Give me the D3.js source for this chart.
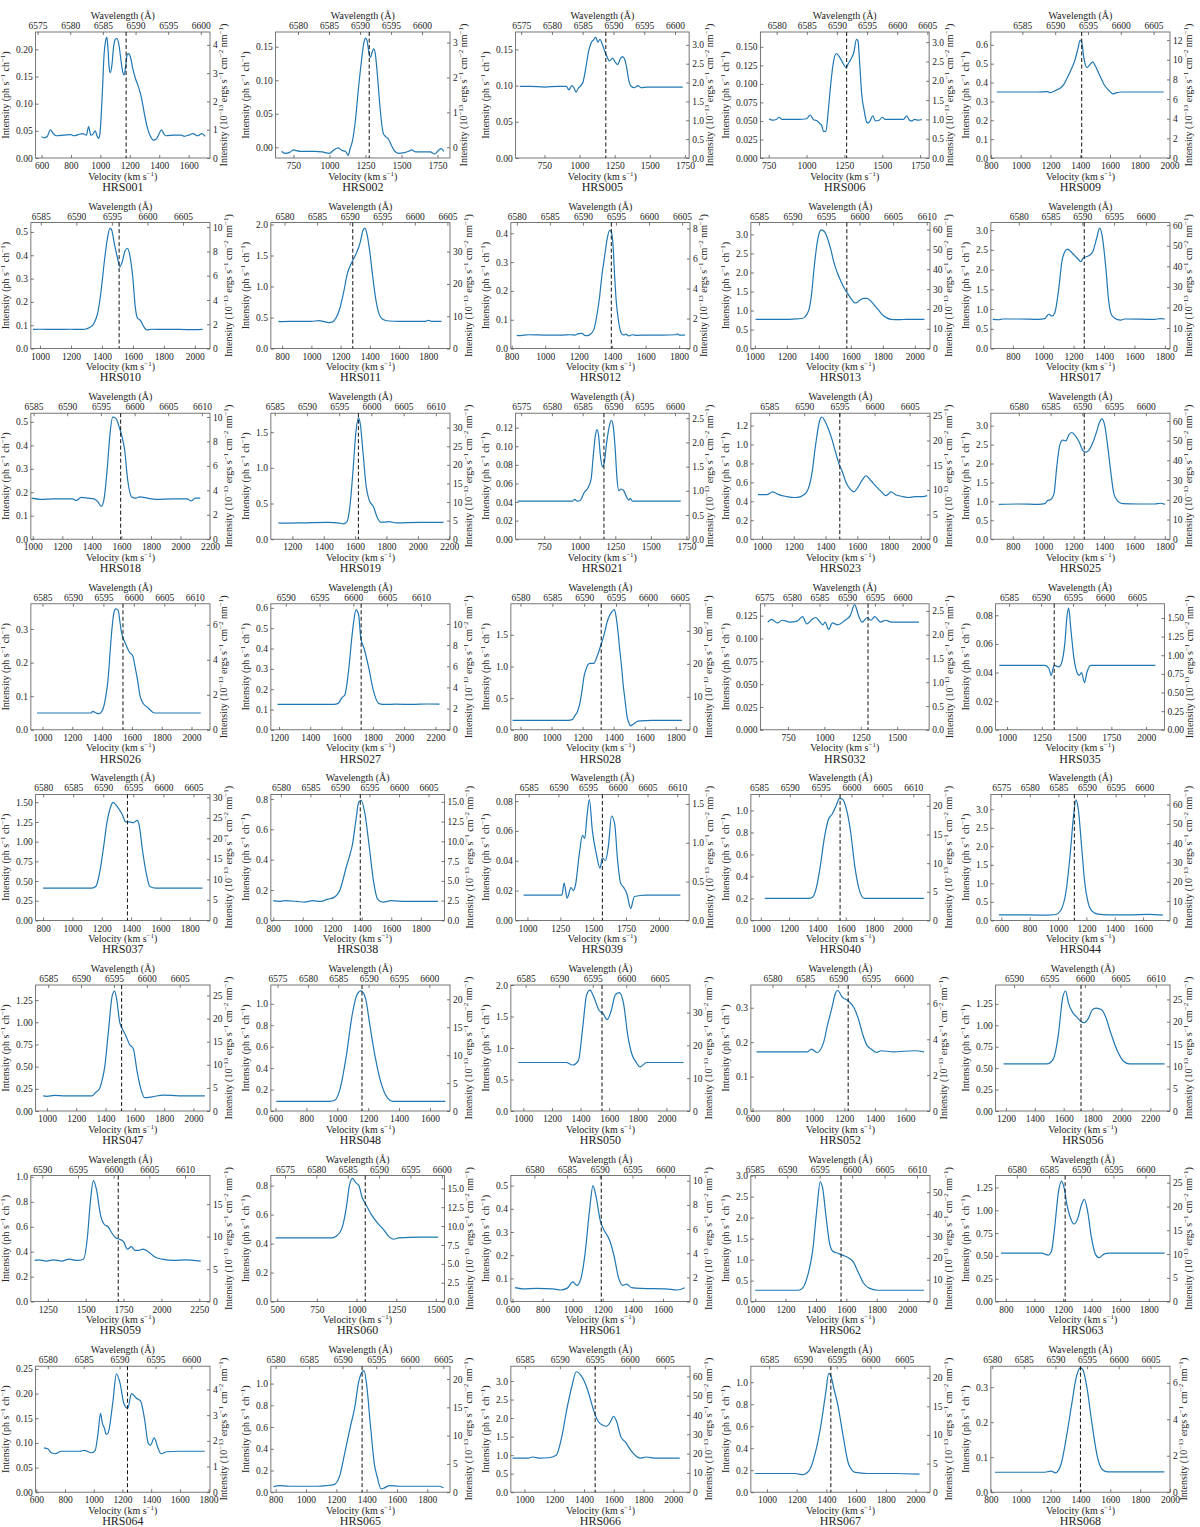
<!DOCTYPE html>
<html><head><meta charset="utf-8">
<script src="https://cdn.jsdelivr.net/npm/d3@7"></script>
<style>
body{margin:0;background:#fff}
text{font-family:"Liberation Serif","DejaVu Serif",serif;fill:#222}
</style>
</head><body>
<svg id="chart" width="1200" height="1527"></svg>
<script>
const panelNames = ["HRS001","HRS002","HRS005","HRS006","HRS009","HRS010","HRS011","HRS012","HRS013","HRS017",
"HRS018","HRS019","HRS021","HRS023","HRS025","HRS026","HRS027","HRS028","HRS032","HRS035",
"HRS037","HRS038","HRS039","HRS040","HRS044","HRS047","HRS048","HRS050","HRS052","HRS056",
"HRS059","HRS060","HRS061","HRS062","HRS063","HRS064","HRS065","HRS066","HRS067","HRS068"];

const velocityLimits = [[560,1745],[626,1837],[545,1780],[695,1810],[800,2003],[941,2098],[723,1948],[795,1865],[975,2095],[656,1834],
[987,2200],[1063,2205],[549,1769],[930,2058],[656,1834],[922,2124],[1148,2293],[738,1892],[560,1720],[918,2131],
[749,1938],[784,1960],[910,2230],[930,2195],[526,1790],[923,2113],[570,1730],[913,2165],[589,1760],[1129,2336],
[1138,2321],[460,1554],[589,1780],[972,2150],[729,1948],[595,1810],[768,1950],[909,2112],[892,2097],[800,2000]];

const wavelengthLimits = [[6574.7,6601.4],[6576.4,6604.5],[6574.1,6602.3],[6577.3,6605.3],[6580.2,6607.5],[6583.6,6608.8],[6577.9,6605.4],[6579.1,6606.2],[6583.8,6610.5],[6575.6,6603.8],
[6584.6,6611.2],[6584.4,6612.2],[6574.1,6602.3],[6582.4,6607.9],[6575.6,6603.8],[6583.1,6612.5],[6587.8,6614.3],[6578.5,6606.6],[6574.3,6604.8],[6582.9,6609.3],
[6578.75,6607.75],[6578.3,6607.7],[6582.8,6612.0],[6583.7,6612.7],[6573.2,6604.5],[6583.1,6609.6],[6573.9,6603.4],[6582.8,6609.5],[6576.7,6604.0],[6587.4,6612.0],
[6588.4,6613.5],[6572.75,6600.4],[6576.4,6603.8],[6584.4,6612.0],[6576.7,6603.8],[6578.3,6602.6],[6579.3,6606.0],[6583.0,6608.6],[6582.3,6608.8],[6579.8,6608.1]];

const intensityLimits = [[0,0.232],[-0.016,0.172],[0,0.174],[0,0.17],[0,0.668],[0,0.54],[0,2.03],[0,0.437],[0,3.31],[0,3.19],
[0,0.537],[0,1.765],[0,0.1356],[0,1.33],[0,3.33],[0,0.375],[0,0.62],[0,1.99],[0,0.138],[0,0.088],
[0,1.6],[0,0.83],[0,0.0845],[0,1.146],[0,3.4],[0,1.42],[0,1.175],[0,2.0],[0,0.366],[0,1.47],
[0,1.01],[0,0.869],[0,0.543],[0,3.0],[0,1.38],[0,0.2555],[0,1.16],[0,3.4],[0,1.146],[0,0.36]];

const velocityTickStep = [200,250,250,250,200,200,200,200,200,200,
200,200,250,200,200,200,200,200,250,250,
200,200,250,200,200,200,200,200,200,200,
250,250,200,200,200,200,200,200,200,200];

const leftTickStep = [0.05,0.05,0.05,0.025,0.1,0.1,0.5,0.1,0.5,0.5,
0.1,0.5,0.02,0.2,0.5,0.1,0.1,0.5,0.025,0.02,
0.25,0.2,0.02,0.2,0.5,0.25,0.2,0.5,0.1,0.25,
0.2,0.2,0.1,0.5,0.25,0.05,0.2,0.5,0.2,0.1];

const rightTickStep = [1,1,0.5,0.5,2,2,10,2,10,10,
2,5,0.5,5,10,2,2,10,0.5,0.25,
5,2.5,0.5,5,10,5,5,10,2,5,
5,2.5,2,10,5,1,5,10,5,2];

const dashedVelocity = [1175,1276,1187,1265,1410,1511,1283,1395,1575,1270,
1595,1621,1170,1490,1270,1540,1725,1320,1300,1339,
1375,1390,1570,1560,1115,1510,1160,1550,1225,1720,
1715,1055,1190,1565,1215,1235,1370,1475,1430,1400];

const fluxConversion = 19.2;

const hrs001 = [[600,0.039],[620,0.037],[640,0.04],[660,0.052],[680,0.045],[700,0.041],[750,0.042],[800,0.043],[820,0.041],[850,0.043],[880,0.045],[905,0.042],[920,0.058],[935,0.042],[950,0.044],[965,0.05],[978,0.04],[988,0.036],[997,0.045],[1005,0.075],[1015,0.13],[1025,0.19],[1035,0.215],[1044,0.222],[1052,0.2],[1060,0.165],[1068,0.157],[1078,0.17],[1090,0.205],[1100,0.218],[1112,0.22],[1125,0.21],[1140,0.18],[1152,0.158],[1162,0.153],[1172,0.17],[1182,0.19],[1192,0.192],[1205,0.185],[1220,0.165],[1240,0.145],[1260,0.13],[1280,0.11],[1300,0.08],[1320,0.055],[1340,0.04],[1360,0.033],[1380,0.035],[1400,0.045],[1415,0.052],[1430,0.045],[1445,0.041],[1500,0.042],[1550,0.042],[1570,0.04],[1600,0.042],[1630,0.045],[1660,0.041],[1690,0.045],[1712,0.04]];
const hrs002 = [[668,-0.006],[690,-0.009],[720,-0.008],[750,-0.004],[770,-0.005],[800,-0.006],[850,-0.006],[900,-0.006],[950,-0.007],[1000,-0.009],[1030,-0.004],[1060,-0.001],[1090,-0.005],[1110,-0.006],[1130,-0.012],[1142,-0.003],[1160,0.01],[1180,0.04],[1200,0.085],[1220,0.125],[1240,0.157],[1250,0.163],[1262,0.158],[1275,0.14],[1285,0.134],[1298,0.143],[1308,0.147],[1318,0.14],[1330,0.115],[1345,0.075],[1360,0.04],[1375,0.02],[1390,0.016],[1410,0.012],[1430,0.003],[1450,-0.005],[1480,-0.009],[1520,-0.008],[1550,-0.006],[1570,-0.004],[1600,-0.007],[1650,-0.007],[1700,-0.007],[1730,-0.01],[1760,-0.004],[1775,-0.002],[1794,-0.006]];
const hrs005 = [[575,0.099],[650,0.099],[750,0.098],[850,0.099],[905,0.099],[925,0.094],[945,0.1],[960,0.097],[975,0.091],[990,0.096],[1005,0.099],[1025,0.105],[1045,0.125],[1065,0.148],[1085,0.16],[1100,0.163],[1115,0.167],[1130,0.16],[1145,0.164],[1160,0.158],[1175,0.15],[1195,0.14],[1213,0.134],[1235,0.138],[1255,0.132],[1272,0.129],[1290,0.137],[1305,0.14],[1320,0.137],[1335,0.125],[1350,0.108],[1367,0.099],[1390,0.097],[1415,0.1],[1440,0.097],[1480,0.098],[1550,0.098],[1650,0.098],[1735,0.098]];
const hrs006 = [[752,0.053],[775,0.051],[800,0.052],[820,0.055],[838,0.052],[880,0.052],[950,0.052],[1000,0.053],[1025,0.058],[1045,0.052],[1070,0.05],[1090,0.046],[1100,0.044],[1112,0.036],[1128,0.036],[1142,0.06],[1160,0.1],[1180,0.132],[1198,0.141],[1215,0.137],[1235,0.13],[1252,0.124],[1262,0.122],[1275,0.127],[1292,0.133],[1312,0.142],[1330,0.16],[1340,0.158],[1352,0.125],[1365,0.085],[1380,0.065],[1395,0.05],[1405,0.047],[1420,0.05],[1438,0.057],[1455,0.05],[1480,0.051],[1500,0.055],[1520,0.052],[1560,0.052],[1640,0.052],[1662,0.057],[1680,0.051],[1695,0.05],[1712,0.052],[1740,0.051],[1762,0.052]];
const hrs009 = [[840,0.35],[900,0.35],[1000,0.35],[1100,0.35],[1180,0.352],[1195,0.347],[1215,0.35],[1240,0.36],[1265,0.37],[1290,0.39],[1310,0.42],[1340,0.47],[1365,0.52],[1385,0.58],[1400,0.625],[1410,0.615],[1425,0.53],[1445,0.48],[1460,0.49],[1485,0.51],[1500,0.49],[1530,0.44],[1560,0.39],[1590,0.36],[1620,0.34],[1640,0.345],[1680,0.35],[1800,0.35],[1960,0.35]];
const hrs010 = [[955,0.082],[1000,0.083],[1100,0.082],[1200,0.083],[1250,0.082],[1290,0.083],[1320,0.09],[1350,0.11],[1375,0.16],[1395,0.25],[1415,0.37],[1435,0.47],[1452,0.515],[1462,0.51],[1480,0.45],[1500,0.39],[1515,0.35],[1530,0.37],[1550,0.42],[1565,0.43],[1580,0.4],[1600,0.3],[1615,0.18],[1630,0.13],[1650,0.12],[1665,0.1],[1690,0.08],[1720,0.083],[1800,0.082],[1900,0.082],[2000,0.081],[2050,0.082]];
const hrs011 = [[774,0.44],[800,0.435],[900,0.44],[1000,0.44],[1050,0.45],[1080,0.44],[1120,0.42],[1145,0.43],[1170,0.5],[1195,0.65],[1220,0.9],[1245,1.2],[1265,1.33],[1285,1.43],[1310,1.55],[1335,1.72],[1352,1.9],[1366,1.94],[1380,1.85],[1400,1.55],[1420,1.15],[1440,0.8],[1460,0.58],[1490,0.47],[1530,0.445],[1600,0.44],[1700,0.44],[1780,0.44],[1800,0.455],[1820,0.44],[1890,0.44]];
const hrs012 = [[830,0.046],[850,0.045],[900,0.048],[1000,0.047],[1100,0.047],[1150,0.048],[1180,0.047],[1200,0.052],[1220,0.053],[1235,0.046],[1250,0.045],[1270,0.05],[1290,0.065],[1310,0.12],[1325,0.18],[1340,0.26],[1355,0.32],[1370,0.38],[1385,0.41],[1395,0.405],[1405,0.36],[1415,0.25],[1425,0.16],[1437,0.1],[1450,0.06],[1460,0.05],[1470,0.047],[1480,0.05],[1500,0.044],[1520,0.048],[1550,0.046],[1600,0.047],[1700,0.047],[1780,0.048],[1790,0.051],[1800,0.047],[1835,0.047]];
const hrs013 = [[1005,0.77],[1100,0.77],[1200,0.77],[1250,0.78],[1290,0.79],[1310,0.82],[1325,0.9],[1340,1.05],[1355,1.45],[1370,2.1],[1385,2.65],[1400,3.0],[1415,3.12],[1428,3.1],[1445,3.0],[1460,2.82],[1475,2.6],[1495,2.25],[1515,2.0],[1540,1.75],[1560,1.58],[1580,1.45],[1600,1.32],[1620,1.22],[1635,1.2],[1655,1.27],[1680,1.32],[1700,1.32],[1720,1.27],[1745,1.15],[1770,1.03],[1795,0.9],[1820,0.82],[1850,0.77],[1900,0.76],[1950,0.77],[2000,0.77],[2060,0.77]];
const hrs017 = [[668,0.74],[708,0.73],[734,0.75],[839,0.75],[971,0.74],[1010,0.76],[1037,0.87],[1058,0.82],[1076,0.9],[1102,1.5],[1123,2.2],[1142,2.45],[1160,2.52],[1195,2.4],[1234,2.25],[1247,2.2],[1266,2.3],[1300,2.35],[1326,2.45],[1352,2.8],[1371,3.05],[1386,2.9],[1413,2.0],[1431,1.2],[1450,0.85],[1484,0.74],[1510,0.72],[1536,0.75],[1734,0.74],[1770,0.76],[1800,0.75]];
const hrs018 = [[992,0.175],[1054,0.17],[1150,0.172],[1268,0.172],[1295,0.165],[1327,0.178],[1375,0.175],[1415,0.172],[1440,0.16],[1464,0.14],[1482,0.17],[1504,0.3],[1523,0.45],[1541,0.52],[1563,0.515],[1584,0.48],[1603,0.44],[1622,0.38],[1643,0.25],[1670,0.18],[1697,0.175],[1724,0.18],[1777,0.175],[1831,0.17],[1950,0.172],[2045,0.172],[2072,0.163],[2099,0.175],[2134,0.175]];
const hrs019 = [[1111,0.23],[1140,0.225],[1284,0.23],[1429,0.235],[1501,0.225],[1525,0.215],[1549,0.25],[1569,0.5],[1588,1.0],[1605,1.5],[1622,1.7],[1634,1.6],[1651,1.2],[1670,0.75],[1689,0.55],[1718,0.45],[1742,0.3],[1761,0.24],[1790,0.24],[1814,0.245],[1863,0.23],[2007,0.235],[2164,0.235]];
const hrs021 = [[563,0.041],[700,0.041],[800,0.041],[900,0.041],[950,0.041],[965,0.043],[980,0.041],[1005,0.042],[1030,0.05],[1060,0.056],[1080,0.065],[1095,0.09],[1110,0.112],[1122,0.118],[1132,0.112],[1145,0.09],[1160,0.078],[1172,0.082],[1190,0.105],[1210,0.123],[1222,0.128],[1235,0.122],[1250,0.095],[1262,0.065],[1275,0.052],[1290,0.054],[1310,0.052],[1330,0.045],[1345,0.042],[1355,0.044],[1370,0.041],[1500,0.041],[1600,0.041],[1710,0.041]];
const hrs023 = [[975,0.47],[1030,0.47],[1068,0.5],[1106,0.47],[1156,0.45],[1206,0.44],[1244,0.45],[1282,0.5],[1315,0.7],[1338,1.0],[1363,1.25],[1378,1.29],[1395,1.25],[1421,1.15],[1438,1.07],[1458,0.95],[1484,0.8],[1504,0.72],[1529,0.6],[1554,0.53],[1579,0.5],[1605,0.55],[1630,0.62],[1655,0.67],[1685,0.62],[1723,0.55],[1753,0.5],[1778,0.46],[1798,0.48],[1811,0.5],[1841,0.47],[1887,0.45],[1924,0.44],[1962,0.45],[2013,0.45],[2040,0.46]];
const hrs025 = [[708,0.92],[839,0.93],[971,0.92],[1010,0.94],[1029,1.02],[1050,1.05],[1071,1.2],[1089,1.9],[1110,2.5],[1129,2.62],[1150,2.6],[1168,2.75],[1187,2.82],[1208,2.75],[1239,2.55],[1260,2.35],[1281,2.3],[1300,2.35],[1326,2.55],[1352,2.85],[1371,3.1],[1387,3.18],[1405,3.0],[1423,2.5],[1444,1.8],[1465,1.2],[1492,1.0],[1523,0.94],[1629,0.93],[1734,0.93],[1770,0.95],[1800,0.92]];
const hrs026 = [[963,0.05],[1050,0.05],[1150,0.05],[1250,0.05],[1326,0.05],[1337,0.055],[1360,0.05],[1378,0.048],[1404,0.06],[1425,0.1],[1440,0.15],[1455,0.24],[1466,0.3],[1480,0.35],[1492,0.36],[1508,0.355],[1520,0.32],[1530,0.29],[1554,0.26],[1585,0.23],[1606,0.22],[1620,0.19],[1637,0.15],[1655,0.1],[1674,0.08],[1710,0.065],[1751,0.05],[1850,0.05],[1950,0.05],[2062,0.05]];
const hrs027 = [[1190,0.125],[1300,0.125],[1400,0.125],[1500,0.125],[1552,0.125],[1578,0.13],[1604,0.16],[1620,0.17],[1646,0.3],[1665,0.45],[1677,0.53],[1692,0.59],[1708,0.57],[1723,0.45],[1744,0.4],[1775,0.3],[1801,0.2],[1837,0.13],[1863,0.125],[1950,0.126],[2050,0.125],[2150,0.127],[2226,0.126]];
const hrs028 = [[749,0.15],[850,0.15],[950,0.15],[1050,0.15],[1108,0.15],[1133,0.16],[1150,0.22],[1169,0.3],[1185,0.45],[1195,0.6],[1210,0.85],[1221,0.95],[1235,1.03],[1246,1.05],[1260,1.05],[1272,1.05],[1292,1.15],[1313,1.3],[1338,1.5],[1364,1.75],[1385,1.85],[1405,1.9],[1415,1.8],[1426,1.6],[1440,1.25],[1451,1.0],[1462,0.7],[1472,0.5],[1487,0.2],[1500,0.1],[1508,0.06],[1520,0.08],[1533,0.1],[1550,0.13],[1569,0.14],[1650,0.15],[1750,0.15],[1840,0.15]];
const hrs032 = [[611,0.118],[637,0.121],[677,0.117],[711,0.12],[763,0.118],[813,0.119],[849,0.124],[879,0.116],[909,0.12],[940,0.123],[965,0.119],[989,0.115],[1005,0.118],[1029,0.11],[1055,0.117],[1092,0.115],[1142,0.12],[1178,0.125],[1208,0.137],[1235,0.125],[1260,0.118],[1294,0.123],[1320,0.12],[1346,0.124],[1386,0.118],[1420,0.12],[1460,0.118],[1550,0.118],[1650,0.118]];
const hrs035 = [[945,0.045],[1050,0.045],[1150,0.045],[1273,0.045],[1300,0.043],[1317,0.038],[1339,0.045],[1372,0.044],[1393,0.047],[1415,0.06],[1432,0.08],[1443,0.085],[1459,0.07],[1481,0.05],[1503,0.04],[1519,0.038],[1535,0.04],[1557,0.033],[1574,0.04],[1601,0.045],[1700,0.045],[1850,0.045],[1950,0.045],[2066,0.045]];
const hrs037 = [[800,0.41],[900,0.41],[1000,0.41],[1100,0.41],[1133,0.41],[1159,0.43],[1185,0.6],[1210,0.9],[1236,1.25],[1262,1.45],[1277,1.5],[1303,1.45],[1338,1.35],[1364,1.25],[1390,1.25],[1415,1.24],[1441,1.27],[1456,1.2],[1477,0.9],[1503,0.6],[1528,0.43],[1569,0.41],[1700,0.41],[1887,0.41]];
const hrs038 = [[800,0.13],[837,0.125],[880,0.13],[960,0.125],[1013,0.12],[1066,0.13],[1119,0.125],[1172,0.14],[1210,0.15],[1252,0.2],[1295,0.35],[1316,0.42],[1337,0.5],[1359,0.65],[1380,0.78],[1396,0.79],[1422,0.7],[1449,0.5],[1481,0.25],[1507,0.14],[1545,0.12],[1598,0.13],[1700,0.125],[1800,0.125],[1917,0.125]];
const hrs039 = [[971,0.017],[1100,0.017],[1200,0.017],[1262,0.017],[1279,0.025],[1302,0.015],[1331,0.022],[1349,0.02],[1366,0.024],[1395,0.045],[1419,0.057],[1436,0.055],[1453,0.07],[1471,0.081],[1494,0.06],[1523,0.045],[1552,0.035],[1570,0.042],[1593,0.04],[1616,0.05],[1640,0.07],[1663,0.065],[1686,0.04],[1709,0.025],[1733,0.022],[1756,0.018],[1785,0.008],[1814,0.016],[1900,0.017],[2050,0.017],[2163,0.017]];
const hrs040 = [[1028,0.2],[1150,0.2],[1250,0.2],[1337,0.2],[1365,0.21],[1393,0.3],[1421,0.5],[1449,0.75],[1478,0.92],[1506,0.97],[1534,1.05],[1556,1.11],[1579,1.1],[1607,1.0],[1635,0.8],[1663,0.5],[1691,0.3],[1730,0.2],[1850,0.2],[2000,0.2],[2152,0.2]];
const hrs044 = [[583,0.15],[700,0.15],[800,0.15],[926,0.14],[954,0.15],[983,0.16],[1023,0.3],[1057,0.8],[1086,1.8],[1109,2.8],[1126,3.25],[1143,3.0],[1166,2.0],[1189,1.0],[1211,0.5],[1240,0.25],[1280,0.17],[1354,0.15],[1500,0.15],[1640,0.16],[1740,0.14]];
const hrs047 = [[974,0.17],[1000,0.165],[1051,0.175],[1128,0.17],[1250,0.17],[1308,0.17],[1333,0.21],[1359,0.25],[1377,0.35],[1395,0.5],[1420,0.9],[1446,1.3],[1462,1.35],[1477,1.25],[1497,1.0],[1523,0.9],[1538,0.85],[1564,0.75],[1590,0.7],[1615,0.45],[1641,0.25],[1667,0.15],[1718,0.16],[1795,0.18],[1900,0.17],[2077,0.17]];
const hrs048 = [[605,0.09],[700,0.09],[800,0.09],[900,0.09],[954,0.09],[983,0.1],[1017,0.2],[1057,0.5],[1097,0.9],[1126,1.08],[1154,1.12],[1183,1.05],[1211,0.8],[1246,0.5],[1286,0.25],[1326,0.12],[1360,0.09],[1500,0.09],[1700,0.09]];
const hrs050 = [[965,0.77],[1100,0.77],[1200,0.77],[1299,0.77],[1345,0.73],[1385,0.8],[1414,1.3],[1443,1.85],[1466,1.92],[1494,1.8],[1529,1.6],[1557,1.55],[1586,1.45],[1615,1.6],[1644,1.85],[1672,1.88],[1701,1.7],[1730,1.2],[1759,0.9],[1787,0.78],[1816,0.7],[1862,0.77],[2000,0.77],[2120,0.77]];
const hrs052 = [[625,0.172],[700,0.172],[800,0.172],[900,0.172],[958,0.172],[985,0.18],[1022,0.17],[1065,0.2],[1090,0.25],[1119,0.3],[1140,0.34],[1156,0.35],[1188,0.33],[1225,0.32],[1263,0.3],[1290,0.27],[1322,0.22],[1349,0.19],[1375,0.18],[1413,0.17],[1440,0.175],[1520,0.172],[1660,0.175],[1720,0.172]];
const hrs056 = [[1184,0.55],[1300,0.55],[1400,0.55],[1483,0.55],[1526,0.6],[1564,0.9],[1591,1.3],[1613,1.4],[1635,1.25],[1662,1.15],[1689,1.1],[1716,1.05],[1743,1.03],[1771,1.08],[1798,1.18],[1825,1.2],[1863,1.18],[1890,1.1],[1928,0.9],[1972,0.7],[2015,0.58],[2053,0.55],[2150,0.55],[2298,0.55]];
const hrs059 = [[1163,0.33],[1190,0.335],[1240,0.325],[1290,0.335],[1340,0.325],[1390,0.34],[1444,0.33],[1485,0.34],[1510,0.5],[1531,0.8],[1551,0.97],[1571,0.9],[1597,0.7],[1622,0.62],[1648,0.6],[1673,0.55],[1699,0.51],[1724,0.5],[1750,0.48],[1776,0.42],[1801,0.44],[1827,0.41],[1852,0.41],[1878,0.42],[1913,0.4],[1954,0.36],[2005,0.34],[2082,0.33],[2158,0.335],[2260,0.325]];
const hrs060 = [[490,0.44],[600,0.44],[700,0.44],[800,0.44],[847,0.44],[871,0.45],[906,0.5],[936,0.65],[955,0.8],[975,0.85],[995,0.82],[1015,0.8],[1035,0.72],[1059,0.67],[1094,0.6],[1134,0.54],[1168,0.5],[1203,0.45],[1233,0.43],[1267,0.44],[1400,0.445],[1515,0.445]];
const hrs061 = [[616,0.06],[670,0.055],[760,0.057],[867,0.055],[921,0.05],[964,0.058],[1001,0.085],[1028,0.07],[1055,0.1],[1081,0.2],[1113,0.4],[1135,0.5],[1156,0.45],[1183,0.35],[1215,0.3],[1242,0.27],[1274,0.2],[1306,0.1],[1333,0.07],[1359,0.075],[1391,0.06],[1456,0.057],[1616,0.055],[1696,0.05],[1745,0.06]];
const hrs062 = [[1000,0.27],[1100,0.27],[1200,0.27],[1278,0.27],[1306,0.3],[1344,0.6],[1378,1.2],[1406,2.2],[1428,2.85],[1444,2.7],[1467,2.0],[1489,1.4],[1511,1.2],[1544,1.15],[1578,1.1],[1611,1.05],[1644,0.95],[1678,0.7],[1711,0.45],[1750,0.32],[1806,0.27],[1950,0.27],[2110,0.27]];
const hrs063 = [[767,0.53],[850,0.53],[950,0.53],[1050,0.53],[1097,0.51],[1119,0.55],[1141,0.8],[1168,1.2],[1190,1.32],[1207,1.25],[1229,1.05],[1256,0.9],[1278,0.85],[1305,0.92],[1327,1.05],[1349,1.12],[1371,1.0],[1399,0.7],[1426,0.52],[1453,0.48],[1486,0.52],[1525,0.53],[1700,0.53],[1910,0.53]];
const hrs064 = [[653,0.09],[679,0.088],[705,0.08],[732,0.078],[774,0.083],[905,0.083],[932,0.085],[984,0.08],[1010,0.085],[1030,0.12],[1047,0.16],[1060,0.14],[1074,0.13],[1087,0.117],[1100,0.12],[1132,0.18],[1158,0.24],[1184,0.22],[1210,0.18],[1237,0.17],[1263,0.2],[1300,0.19],[1326,0.185],[1353,0.15],[1379,0.1],[1395,0.095],[1421,0.11],[1447,0.09],[1468,0.078],[1510,0.082],[1589,0.083],[1700,0.083],[1773,0.083]];
const hrs065 = [[784,0.05],[821,0.06],[891,0.055],[1000,0.055],[1078,0.055],[1132,0.06],[1185,0.07],[1222,0.15],[1254,0.35],[1292,0.6],[1324,0.8],[1345,1.0],[1367,1.1],[1383,1.12],[1399,1.0],[1426,0.6],[1452,0.25],[1468,0.15],[1495,0.03],[1517,0.04],[1549,0.06],[1613,0.055],[1750,0.055],[1880,0.055],[1907,0.04]];
const hrs066 = [[920,0.92],[1027,0.92],[1053,0.95],[1107,0.92],[1160,0.93],[1214,1.0],[1251,1.5],[1283,2.2],[1321,2.9],[1348,3.25],[1380,3.15],[1412,2.9],[1444,2.5],[1465,2.2],[1497,1.9],[1529,1.8],[1551,1.78],[1578,1.9],[1599,2.05],[1620,1.9],[1647,1.5],[1679,1.35],[1711,1.15],[1743,1.0],[1775,0.92],[1818,0.95],[1882,0.92],[2043,0.92]];
const hrs067 = [[919,0.17],[1050,0.17],[1189,0.17],[1243,0.16],[1286,0.2],[1324,0.35],[1362,0.6],[1395,0.9],[1416,1.08],[1432,1.05],[1449,0.95],[1476,0.8],[1514,0.5],[1551,0.25],[1595,0.18],[1676,0.17],[1850,0.17],[2027,0.165]];
const hrs068 = [[827,0.057],[950,0.057],[1050,0.057],[1151,0.057],[1205,0.06],[1232,0.055],[1270,0.08],[1303,0.15],[1341,0.25],[1373,0.33],[1400,0.355],[1416,0.35],[1443,0.3],[1476,0.2],[1514,0.1],[1546,0.065],[1584,0.058],[1750,0.058],[1962,0.058]];

const spectra = [hrs001,hrs002,hrs005,hrs006,hrs009,hrs010,hrs011,hrs012,hrs013,hrs017,
hrs018,hrs019,hrs021,hrs023,hrs025,hrs026,hrs027,hrs028,hrs032,hrs035,
hrs037,hrs038,hrs039,hrs040,hrs044,hrs047,hrs048,hrs050,hrs052,hrs056,
hrs059,hrs060,hrs061,hrs062,hrs063,hrs064,hrs065,hrs066,hrs067,hrs068];

// ---------- drawing ----------
const svg = d3.select("#chart");
const CELL_W = 240, CELL_H = 190.6;
const TICK_FS = 9.5, LABEL_FS = 10, TITLE_FS = 12;
const AXIS_COLOR = "#555";
const LINE_COLOR = "#1f77b4";
const PAD = 3;

const measurer = svg.append("text").attr("font-size", TICK_FS).style("visibility","hidden");
function textWidth(s){ measurer.text(s); return measurer.node().getComputedTextLength(); }
function ticksFor(lo, hi, step){
  const out = [];
  for(let k = Math.ceil(lo/step - 1e-9); k*step <= hi + step*1e-6; k++) out.push(+(k*step).toFixed(6));
  return out;
}
function decimals(step){ const s = String(step); return s.includes(".") ? s.split(".")[1].length : 0; }
function richText(sel, parts, fs){
  let up = false;
  parts.forEach(([s, sup]) => {
    const t = sel.append("tspan").text(s);
    if(sup){ t.attr("font-size", fs*0.7).attr("dy", up ? 0 : -fs*0.4); up = true; }
    else { t.attr("font-size", fs).attr("dy", up ? fs*0.4 : 0); up = false; }
  });
}
function styleAxis(g){
  g.select(".domain").remove();
  g.selectAll(".tick line").attr("stroke", AXIS_COLOR).attr("stroke-width", 0.8);
  g.selectAll(".tick text").attr("font-size", TICK_FS).attr("font-family", '"Liberation Serif","DejaVu Serif",serif').attr("fill", "#222");
}

panelNames.forEach((name, i) => {
  const r = Math.floor(i / 5), c = i % 5;
  const g = svg.append("g").attr("transform", `translate(${c*CELL_W},${r*CELL_H})`);
  const [ylo, yhi] = intensityLimits[i];

  const lTicks = ticksFor(ylo, yhi, leftTickStep[i]);
  const ld = decimals(leftTickStep[i]);
  const lw = d3.max(lTicks, v => textWidth(v.toFixed(ld)));
  const rTicks = ticksFor(ylo*fluxConversion, yhi*fluxConversion, rightTickStep[i]);
  const rd = decimals(rightTickStep[i]);
  const rw = d3.max(rTicks, v => textWidth(v.toFixed(rd)));

  const left = 16 + lw + PAD;
  const right = Math.min(210, CELL_W - 16 - rw - PAD);
  const top = 32, bottom = 158;

  const x = d3.scaleLinear().domain(velocityLimits[i]).range([left, right]);
  const xw = d3.scaleLinear().domain(wavelengthLimits[i]).range([left, right]);
  const y = d3.scaleLinear().domain([ylo, yhi]).range([bottom, top]);
  const yr = d3.scaleLinear().domain([ylo*fluxConversion, yhi*fluxConversion]).range([bottom, top]);

  // axes with inward ticks
  g.append("g").attr("transform", `translate(0,${bottom})`)
    .call(d3.axisBottom(x).tickValues(ticksFor(...velocityLimits[i], velocityTickStep[i])).tickFormat(d3.format("d")).tickSize(-3).tickPadding(4.5))
    .call(styleAxis);
  g.append("g").attr("transform", `translate(0,${top})`)
    .call(d3.axisTop(xw).tickValues(ticksFor(...wavelengthLimits[i], 5)).tickFormat(d3.format("d")).tickSize(-3).tickPadding(PAD))
    .call(styleAxis);
  g.append("g").attr("transform", `translate(${left},0)`)
    .call(d3.axisLeft(y).tickValues(lTicks).tickFormat(d => d.toFixed(ld)).tickSize(-3).tickPadding(PAD))
    .call(styleAxis);
  g.append("g").attr("transform", `translate(${right},0)`)
    .call(d3.axisRight(yr).tickValues(rTicks).tickFormat(d => d.toFixed(rd)).tickSize(-3).tickPadding(PAD))
    .call(styleAxis);

  // frame
  g.append("rect").attr("x", left).attr("y", top).attr("width", right-left).attr("height", bottom-top)
    .attr("fill", "none").attr("stroke", AXIS_COLOR).attr("stroke-width", 0.8);

  // clip
  const clipId = "clip" + i;
  g.append("clipPath").attr("id", clipId).append("rect")
    .attr("x", left).attr("y", top).attr("width", right-left).attr("height", bottom-top);

  // spectrum
  const line = d3.line().x(d => x(d[0])).y(d => y(d[1])).curve(d3.curveMonotoneX);
  g.append("path").datum(spectra[i]).attr("d", line).attr("fill", "none")
    .attr("stroke", LINE_COLOR).attr("stroke-width", 1.2).attr("clip-path", `url(#${clipId})`);

  // dashed systemic velocity
  g.append("line").attr("x1", x(dashedVelocity[i])).attr("x2", x(dashedVelocity[i]))
    .attr("y1", top).attr("y2", bottom).attr("stroke", "#111").attr("stroke-width", 1)
    .attr("stroke-dasharray", "4,2.5");

  // labels
  g.append("text").attr("x", (left+right)/2).attr("y", 19).attr("text-anchor", "middle")
    .attr("font-size", LABEL_FS).text("Wavelength (Å)");
  richText(g.append("text").attr("x", (left+right)/2).attr("y", 179.5).attr("text-anchor", "middle"),
    [["Velocity (km s",false],["−1",true],[")",false]], LABEL_FS);
  g.append("text").attr("x", (left+right)/2).attr("y", 190.8).attr("text-anchor", "middle")
    .attr("font-size", TITLE_FS).text(name);
  const cy = (top+bottom)/2;
  const lx = left - PAD - lw - 7;
  richText(g.append("text").attr("transform", `translate(${lx},${cy}) rotate(-90)`).attr("text-anchor", "middle"),
    [["Intensity (ph s",false],["−1",true],[" ch",false],["−1",true],[")",false]], LABEL_FS);
  const rx = right + PAD + rw + 9;
  richText(g.append("text").attr("transform", `translate(${rx},${cy}) rotate(-90)`).attr("text-anchor", "middle"),
    [["Intensity (10",false],["−13",true],[" ergs s",false],["−1",true],[" cm",false],["−2",true],[" nm",false],["−1",true],[")",false]], LABEL_FS);
});
measurer.remove();
</script>
</body></html>
